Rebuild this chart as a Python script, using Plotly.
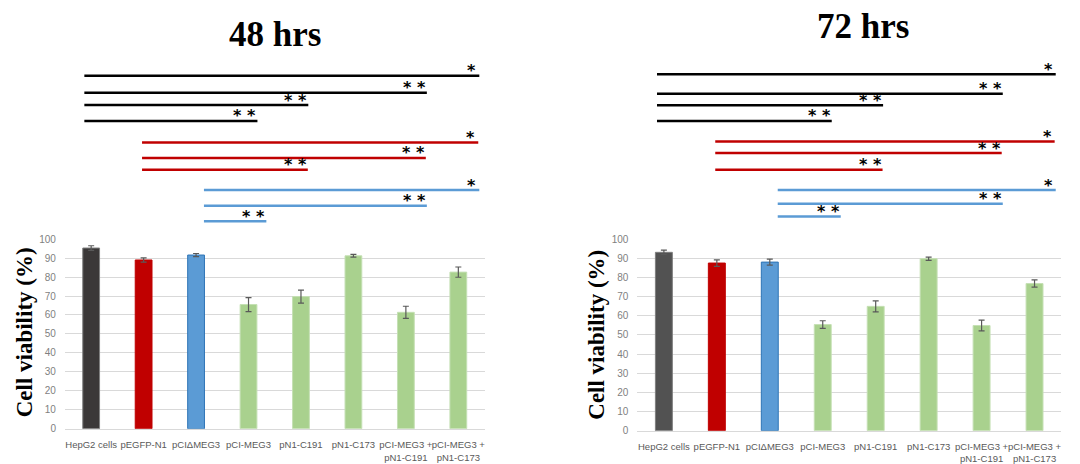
import plotly.graph_objects as go

# ---------------- data ----------------
categories = ["HepG2 cells", "pEGFP-N1", "pCI\u0394MEG3", "pCI-MEG3", "pN1-C191",
              "pN1-C173", "pCI-MEG3 +<br>pN1-C191", "pCI-MEG3 +<br>pN1-C173"]
viability_48h = [95.3, 89.0, 91.6, 65.5, 69.7, 91.2, 61.4, 82.6]
error_48h = [1.2, 1.1, 0.8, 3.7, 3.4, 0.7, 3.2, 2.7]
viability_72h = [93.1, 87.5, 88.0, 55.4, 64.9, 89.8, 54.9, 76.8]
error_72h = [1.1, 1.7, 1.6, 2.0, 2.9, 0.85, 2.8, 1.9]
y_ticks = [0, 10, 20, 30, 40, 50, 60, 70, 80, 90, 100]

# significance comparisons (index of reference group -> compared group)
sig_from = [0, 0, 0, 0, 1, 1, 1, 2, 2, 2]
sig_to = [7, 6, 4, 3, 7, 6, 4, 7, 6, 3]
sig_label = ["*", "**", "**", "**", "*", "**", "**", "*", "**", "**"]

panel_titles = ["48 hrs", "72 hrs"]

# ---------------- layout / style ----------------
W, H = 1080, 464
def px_x(p): return p / W
def px_y(p): return 1 - p / H

panels = [
    dict(xa="x", ya="y", xdom=(65, 485), ydom=(434, 239.3),
         vals=viability_48h, errs=error_48h, hep_color="#3b3838",
         title_xy=(275, 29), ytitle_xy=(24, 335),
         sig_y=[71.7, 89, 101.7, 118, 140, 156, 168, 189, 205, 221]),
    dict(xa="x2", ya="y2", xdom=(638, 1062), ydom=(436, 239.3),
         vals=viability_72h, errs=error_72h, hep_color="#525252",
         title_xy=(864, 21), ytitle_xy=(597, 337),
         sig_y=[70, 90, 102, 118, 139, 151, 168, 189, 203, 216]),
]
start_off = {0: -0.13, 1: -0.03, 2: 0.15}
end_off = [0.40, 0.40, 0.14, 0.17, 0.38, 0.38, 0.13, 0.40, 0.40, 0.34]
sig_colors = {0: "#000000", 1: "#c00000", 2: "#5b9bd5"}

bar_fill = ["HEP", "#c00000", "#5b9bd5", "#a9d18e", "#a9d18e", "#a9d18e", "#a9d18e", "#a9d18e"]
bar_line = ["HEP", "#c00000", "#2e75b6", "#c5e0b4", "#c5e0b4", "#c5e0b4", "#c5e0b4", "#c5e0b4"]

fig = go.Figure()
x_idx = list(range(len(categories)))
shapes, annotations = [], []

for k, p in enumerate(panels):
    fills = [p["hep_color"] if c == "HEP" else c for c in bar_fill]
    lines = ["#7f7f7f" if c == "HEP" else c for c in bar_line]
    fig.add_trace(go.Bar(
        x=x_idx, y=p["vals"], xaxis=p["xa"], yaxis=p["ya"],
        marker=dict(color=fills, line=dict(color=lines, width=1)),
        error_y=dict(type="data", array=p["errs"], color="#595959", thickness=1.2, width=3),
        showlegend=False, hoverinfo="skip"))

    suffix = "" if k == 0 else "2"
    fig.layout["xaxis" + suffix] = dict(
        domain=[px_x(p["xdom"][0]), px_x(p["xdom"][1])], anchor="y" + suffix,
        range=[-0.5, len(categories) - 0.5], tickmode="array", tickvals=x_idx,
        ticktext=categories, showgrid=False, showline=True, linecolor="#d9d9d9",
        linewidth=1, ticks="", ticklabelstandoff=7,
        tickfont=dict(family="Liberation Sans", size=9.5, color="#595959"),
        zeroline=False, fixedrange=True, tickangle=0)
    fig.layout["yaxis" + suffix] = dict(
        domain=[px_y(p["ydom"][0]), px_y(p["ydom"][1])], anchor="x" + suffix,
        range=[0, 100], tickmode="array", tickvals=y_ticks,
        showgrid=True, gridcolor="#d9d9d9", gridwidth=1, zeroline=False,
        showline=False, ticks="", ticklabelstandoff=8,
        tickfont=dict(family="Liberation Sans", size=10, color="#7f7f7f"), fixedrange=True)

    # panel title
    annotations.append(dict(text="<b>%s</b>" % panel_titles[k], xref="paper", yref="paper",
                            x=px_x(p["title_xy"][0]), y=px_y(p["title_xy"][1]),
                            xanchor="center", yanchor="middle", showarrow=False,
                            font=dict(family="Liberation Serif", size=35, color="#000000")))
    # y title
    annotations.append(dict(text="<b>Cell viability (%)</b>", xref="paper", yref="paper",
                            x=px_x(p["ytitle_xy"][0]), y=px_y(p["ytitle_xy"][1]),
                            xanchor="center", yanchor="middle", showarrow=False, textangle=-90,
                            font=dict(family="Liberation Serif", size=23, color="#000000")))
    # significance lines
    for i in range(len(sig_from)):
        x0 = sig_from[i] + start_off[sig_from[i]]
        x1 = sig_to[i] + end_off[i]
        yy = px_y(p["sig_y"][i])
        shapes.append(dict(type="line", xref=p["xa"], yref="paper", x0=x0, x1=x1, y0=yy, y1=yy,
                           line=dict(color=sig_colors[sig_from[i]], width=2.5)))
        txt = sig_label[i].replace("**", "* *")
        annotations.append(dict(text="<b>%s</b>" % txt, xref=p["xa"], yref="paper", x=x1, y=yy,
                                xanchor="right", yanchor="middle", showarrow=False,
                                xshift=-1 if sig_label[i] == "*" else 1, yshift=5,
                                font=dict(family="DejaVu Sans", size=16, color="#000000")))

fig.update_layout(width=W, height=H, margin=dict(l=0, r=0, t=0, b=0),
                  paper_bgcolor="white", plot_bgcolor="white",
                  bargap=0.68, shapes=shapes, annotations=annotations)

fig.write_html("out.html")
